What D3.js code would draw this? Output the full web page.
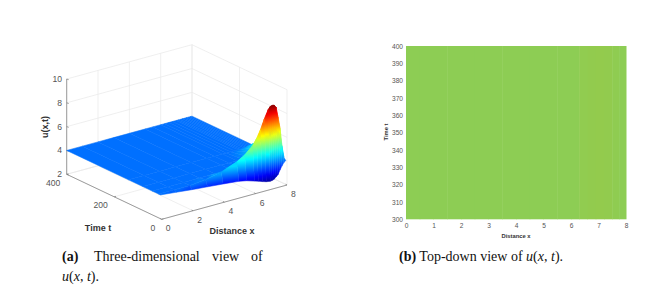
<!DOCTYPE html>
<html>
<head>
<meta charset="utf-8">
<script src="https://cdn.jsdelivr.net/npm/d3@7"></script>
<style>
  body { margin: 0; background: #fff; }
  svg { display: block; }
  text { font-family: "Liberation Sans", sans-serif; }
  .cap { font-family: "Liberation Serif", serif; font-size: 14px; fill: #111; }
</style>
</head>
<body>
<script>
// surface values, one list per time row
const xGrid = [0, 1, 2, 3, 4, 5, 5.5, 6, 6.25, 6.5, 6.75, 7, 7.125, 7.25, 7.375, 7.5, 7.625, 7.75, 7.875, 8]
const tGrid = [5, 13, 40, 80, 140, 400]
const uT5 = [4, 3.86, 3.72, 3.6, 3.48, 3.34, 3.21, 3.0, 2.9, 2.78, 2.68, 2.62, 2.65, 2.7, 2.85, 3.0, 3.34, 3.63, 3.88, 4.0]
const uT13 = [4, 4, 4, 4.14, 4.41, 4.9, 5.3, 5.9, 6.4, 7.03, 7.87, 8.57, 8.78, 8.83, 8.8, 8.58, 7.7, 6.75, 5.2, 4.2]
const uT40 = [4, 4, 4, 4, 4, 4, 4.1, 4.5, 4.7, 5, 5.4, 6.1, 6.4, 6.6, 6.8, 6.9, 6.9, 6.7, 6.3, 5.9]
const uT80 = [4, 4, 4, 4, 4, 4, 4, 4, 4.1, 4.25, 4.45, 4.7, 4.85, 5, 5.1, 5.2, 5.3, 5.3, 5.3, 5.2]
const uT140 = [4, 4, 4, 4, 4, 4, 4, 4, 4, 4, 4, 4, 4, 4, 4, 4, 4, 4, 4, 4]
const uT400 = [4, 4, 4, 4, 4, 4, 4, 4, 4, 4, 4, 4, 4, 4, 4, 4, 4, 4, 4, 4]
const uRows = [uT5, uT13, uT40, uT80, uT140, uT400]

const xTicks3d = [0, 2, 4, 6, 8]
const tTicks3d = [0, 200, 400]
const zTicks3d = [2, 4, 6, 8, 10]

// top-down view, t = 300..400 is flat so only x changes
const heatX = [0, 0.5, 1, 1.5, 2, 2.5, 3, 3.5, 4, 4.5, 5, 5.5, 6, 6.3, 6.6, 6.9, 7.2, 7.5, 7.75, 8]
const heatU = [0.1, 0.1, 0.12, 0.12, 0.12, 0.12, 0.12, 0.12, 0.12, 0.12, 0.12, 0.12, 0.12, 0.45, 0.6, 0.7, 0.6, 0.3, 0.12]
const xTicksTop = [0, 1, 2, 3, 4, 5, 6, 7, 8]
const tTicksTop = [300, 310, 320, 330, 340, 350, 360, 370, 380, 390, 400]

const svg = d3.select("body").append("svg").attr("width", 660).attr("height", 291)
const defs = svg.append("defs")

// projection of panel (a)
const ox = 66.7, oy = 174.3
const xToSx = d3.scaleLinear().domain([0, 8]).range([0, 125.3])
const xToSy = d3.scaleLinear().domain([0, 8]).range([0, -34.3])
const tToSx = d3.scaleLinear().domain([0, 400]).range([95, 0])
const tToSy = d3.scaleLinear().domain([0, 400]).range([45, 0])
const zToSy = d3.scaleLinear().domain([2, 10]).range([0, -95.3])
const px = (x, t) => ox + xToSx(x) + tToSx(t)
const py = (x, t, z) => oy + xToSy(x) + tToSy(t) + zToSy(z)

const jet = d3.scaleLinear()
  .domain([0, 0.125, 0.375, 0.625, 0.875, 1])
  .range(["#00008f", "#0000ff", "#00ffff", "#ffff00", "#ff0000", "#800000"])
const uNorm = d3.scaleLinear().domain([2.5, 8.9]).range([0, 1]).clamp(true)
const uColor = u => jet(uNorm(u))

// grid walls and floor
const walls = svg.append("g").attr("stroke", "#e8e8e8").attr("stroke-width", 0.7).attr("fill", "none")
function seg(g, x1, y1, x2, y2) {
  g.append("line").attr("x1", x1).attr("y1", y1).attr("x2", x2).attr("y2", y2)
}
xTicks3d.forEach(x => {
  seg(walls, px(x, 0), py(x, 0, 2), px(x, 400), py(x, 400, 2))
  seg(walls, px(x, 400), py(x, 400, 2), px(x, 400), py(x, 400, 10))
})
tTicks3d.forEach(t => {
  seg(walls, px(0, t), py(0, t, 2), px(8, t), py(8, t, 2))
  seg(walls, px(8, t), py(8, t, 2), px(8, t), py(8, t, 10))
})
zTicks3d.forEach(z => {
  seg(walls, px(0, 400), py(0, 400, z), px(8, 400), py(8, 400, z))
  seg(walls, px(8, 400), py(8, 400, z), px(8, 0), py(8, 0, z))
})

// axis lines
const axes = svg.append("g").attr("stroke", "#777").attr("stroke-width", 0.7)
seg(axes, px(0, 400), py(0, 400, 2), px(0, 400), py(0, 400, 10))
seg(axes, px(0, 0), py(0, 0, 2), px(0, 400), py(0, 400, 2))
seg(axes, px(0, 0), py(0, 0, 2), px(8, 0), py(8, 0, 2))
zTicks3d.forEach(z => seg(axes, px(0, 400), py(0, 400, z), px(0, 400) + 2, py(0, 400, z) + 0.7))
xTicks3d.forEach(x => seg(axes, px(x, 0), py(x, 0, 2), px(x, 0) - 1.4, py(x, 0, 2) - 0.7))
tTicks3d.forEach(t => seg(axes, px(0, t), py(0, t, 2), px(0, t) + 1.8, py(0, t, 2) - 0.5))

// surface, painted back to front
const surface = svg.append("g")
let gradId = 0
for (let j = tGrid.length - 2; j >= 0; j--) {
  for (let i = xGrid.length - 2; i >= 0; i--) {
    const corners = [[i, j], [i + 1, j], [i + 1, j + 1], [i, j + 1]]
      .map(c => ({ x: xGrid[c[0]], t: tGrid[c[1]], u: uRows[c[1]][c[0]] }))
      .map(c => ({ sx: px(c.x, c.t), sy: py(c.x, c.t, c.u), u: c.u }))
    const uLo = d3.mean(corners.slice(0, 2), c => c.u)
    const uHi = d3.mean(corners.slice(2), c => c.u)
    let paint = uColor(uLo)
    if (d3.max(corners, c => c.u) !== d3.min(corners, c => c.u)) {
      const id = "q" + gradId++
      const g = defs.append("linearGradient").attr("id", id)
        .attr("gradientUnits", "userSpaceOnUse")
        .attr("x1", d3.mean(corners.slice(0, 2), c => c.sx)).attr("y1", d3.mean(corners.slice(0, 2), c => c.sy))
        .attr("x2", d3.mean(corners.slice(2), c => c.sx)).attr("y2", d3.mean(corners.slice(2), c => c.sy))
      d3.range(0, 1.01, 0.1).forEach(f => {
        g.append("stop").attr("offset", f).attr("stop-color", uColor(uLo + (uHi - uLo) * f))
      })
      paint = "url(#" + id + ")"
    }
    surface.append("polygon")
      .attr("points", corners.map(c => c.sx + "," + c.sy).join(" "))
      .attr("fill", paint)
      .attr("stroke", paint)
      .attr("stroke-width", 0.5)
  }
}

// tick labels of panel (a)
const lab = svg.append("g").attr("font-size", 8.6).attr("fill", "#555")
zTicks3d.forEach(z => {
  lab.append("text").attr("x", 62).attr("y", py(0, 400, z)).attr("dy", "0.35em")
    .attr("text-anchor", "end").text(z)
})
xTicks3d.forEach(x => {
  lab.append("text").attr("x", px(x, 0) + 6.5).attr("y", py(x, 0, 2) + 9).attr("dy", "0.35em")
    .attr("text-anchor", "middle").text(x)
})
tTicks3d.forEach(t => {
  lab.append("text").attr("x", px(0, t) - 6.3).attr("y", py(0, t, 2) + 8.5).attr("dy", "0.35em")
    .attr("text-anchor", "end").text(t)
})
const bold = svg.append("g").attr("font-size", 9).attr("font-weight", "bold").attr("fill", "#333").attr("text-anchor", "middle")
bold.append("text").attr("x", 232).attr("y", 234).text("Distance x")
bold.append("text").attr("x", 98).attr("y", 231).text("Time t")
bold.append("text").attr("transform", "translate(48,127) rotate(-90)").text("u(x,t)")

// panel (b)
const xHeat = d3.scaleLinear().domain([0, 8]).range([406, 626])
const yHeat = d3.scaleLinear().domain([300, 400]).range([219.3, 46])
const heatColor = d3.scaleLinear().domain([0, 1]).range(["#8ccd55", "#96ca49"])
svg.append("g").selectAll("rect")
  .data(heatU)
  .enter()
  .append("rect")
  .attr("x", (d, i) => xHeat(heatX[i]))
  .attr("y", yHeat(400))
  .attr("width", (d, i) => xHeat(heatX[i + 1]) - xHeat(heatX[i]) + 0.5)
  .attr("height", yHeat(300) - yHeat(400))
  .attr("fill", d => heatColor(d))

const axisB = svg.append("g").attr("transform", "translate(0,219.3)")
  .call(d3.axisBottom(xHeat).tickValues(xTicksTop).tickSize(0).tickPadding(4))
const axisL = svg.append("g").attr("transform", "translate(406,0)")
  .call(d3.axisLeft(yHeat).tickValues(tTicksTop).tickSize(0).tickPadding(3))
;[axisB, axisL].forEach(a => {
  a.select(".domain").remove()
  a.selectAll("text").attr("font-size", 6.6).attr("fill", "#555").attr("font-family", "Liberation Sans")
})
const boldB = svg.append("g").attr("font-size", 5.8).attr("font-weight", "bold").attr("fill", "#333").attr("text-anchor", "middle")
boldB.append("text").attr("x", 516).attr("y", 238).text("Distance x")
boldB.append("text").attr("transform", "translate(388,132) rotate(-90)").text("Time t")

// captions
function caption(x, y, parts) {
  const t = svg.append("text").attr("class", "cap").attr("x", x).attr("y", y)
  parts.forEach(p => {
    const s = t.append("tspan").text(p.s)
    if (p.x) s.attr("x", p.x)
    if (p.b) s.attr("font-weight", "bold")
    if (p.i) s.attr("font-style", "italic")
  })
}
caption(62, 261, [{ s: "(a)", b: true }, { s: "Three-dimensional", x: 94 }, { s: "view", x: 212 }, { s: "of", x: 251 }])
caption(62, 281, [{ s: "u", i: true }, { s: "(" }, { s: "x", i: true }, { s: ", " }, { s: "t", i: true }, { s: ")." }])
caption(399, 261, [{ s: "(b)", b: true }, { s: " Top-down view of " }, { s: "u", i: true }, { s: "(" }, { s: "x", i: true }, { s: ", " }, { s: "t", i: true }, { s: ")." }])
</script>
</body>
</html>
